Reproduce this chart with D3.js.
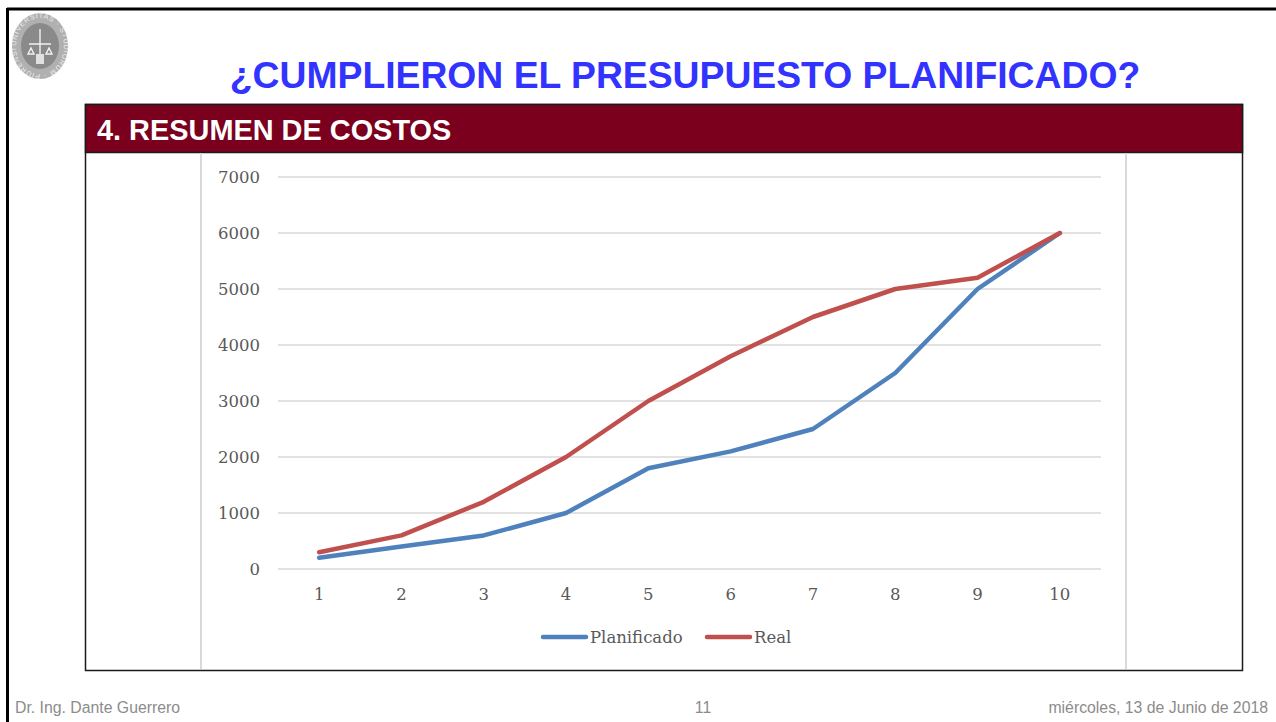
<!DOCTYPE html>
<html>
<head>
<meta charset="utf-8">
<script src="https://cdn.jsdelivr.net/npm/d3@7"></script>
<style>
  body { margin: 0; background: #fff; }
  svg { display: block; }
</style>
</head>
<body>
<svg id="slide" width="1276" height="722"></svg>
<script>
// Datos del gráfico
const periodos = [1, 2, 3, 4, 5, 6, 7, 8, 9, 10];
const planificado = [200, 400, 600, 1000, 1800, 2100, 2500, 3500, 5000, 6000];
const real = [300, 600, 1200, 2000, 3000, 3800, 4500, 5000, 5200, 6000];
const yTicks = [0, 1000, 2000, 3000, 4000, 5000, 6000, 7000];
const series = [
  { name: "Planificado", values: planificado, color: "#4F81BD" },
  { name: "Real", values: real, color: "#C0504D" }
];

const svg = d3.select("#slide");

// Marco de la diapositiva
svg.append("line").attr("x1", 7).attr("x2", 1276).attr("y1", 9).attr("y2", 9)
  .attr("stroke", "#000").attr("stroke-width", 3);
svg.append("line").attr("x1", 7.5).attr("x2", 7.5).attr("y1", 8).attr("y2", 722)
  .attr("stroke", "#000").attr("stroke-width", 3);

// Logo (sello)
const logo = svg.append("g").attr("transform", "translate(40,46)");
logo.append("ellipse").attr("rx", 28).attr("ry", 33).attr("fill", "#b0b0b0");
logo.append("ellipse").attr("rx", 19).attr("ry", 23).attr("fill", "#8a8a8a");
logo.append("path").attr("id", "ring")
  .attr("d", "M -24,0 A 24,28 0 1,1 24,0 A 24,28 0 1,1 -24,0")
  .attr("fill", "none");
logo.append("text").attr("font-family", "Liberation Sans").attr("font-size", 7)
  .attr("fill", "#eeeeee").attr("letter-spacing", 0.8)
  .append("textPath").attr("href", "#ring")
  .text("UNIVERSITAS · STUDIORUM · PIURENSIS ·");
logo.append("path").attr("d", "M0,-17 L0,14 M-11,-2 L11,-2 M-9,2 L-12,8 L-6,8 Z M9,2 L6,8 L12,8 Z")
  .attr("stroke", "#f2f2f2").attr("stroke-width", 1.4).attr("fill", "none");
logo.append("rect").attr("x", -4).attr("y", 8).attr("width", 8).attr("height", 10)
  .attr("fill", "#e0e0e0");

// Título
svg.append("text")
  .attr("x", 685).attr("y", 88)
  .attr("text-anchor", "middle")
  .attr("font-family", "Liberation Sans, Arial, sans-serif")
  .attr("font-weight", "bold").attr("font-size", 37.3)
  .attr("fill", "#3333FF")
  .text("¿CUMPLIERON EL PRESUPUESTO PLANIFICADO?");

// Caja de contenido
const box = { x: 85, y: 104, w: 1157, h: 566 };
svg.append("rect")
  .attr("x", box.x + 0.5).attr("y", box.y + 0.5).attr("width", box.w).attr("height", box.h)
  .attr("fill", "#fff").attr("stroke", "#1a1a1a").attr("stroke-width", 1.5);
svg.append("rect")
  .attr("x", box.x + 0.5).attr("y", box.y + 0.5).attr("width", box.w).attr("height", 48)
  .attr("fill", "#7B001E").attr("stroke", "#1a1a1a").attr("stroke-width", 1.5);
svg.append("text")
  .attr("x", 97).attr("y", 140)
  .attr("font-family", "Liberation Sans, Arial, sans-serif")
  .attr("font-weight", "bold").attr("font-size", 28.9)
  .attr("fill", "#fff")
  .text("4. RESUMEN DE COSTOS");

// Marco del gráfico
[201, 1126].forEach(function(xv) {
  svg.append("line").attr("x1", xv).attr("x2", xv).attr("y1", 153).attr("y2", 669)
    .attr("stroke", "#d9d9d9").attr("stroke-width", 2);
});

// Escalas
const x = d3.scalePoint().domain(periodos).range([278, 1101]).padding(0.5);
const y = d3.scaleLinear().domain([0, 7000]).range([569, 177]);

const fontTicks = "'DejaVu Serif', serif";
const tickSize = 16.5;

// Líneas de cuadrícula
svg.append("g").selectAll("line").data(yTicks).join("line")
  .attr("x1", 278).attr("x2", 1101)
  .attr("y1", d => y(d)).attr("y2", d => y(d))
  .attr("stroke", "#d9d9d9").attr("stroke-width", 1.5);

// Etiquetas eje Y
svg.append("g").selectAll("text").data(yTicks).join("text")
  .attr("x", 260).attr("y", d => y(d) + 6)
  .attr("text-anchor", "end")
  .attr("font-family", fontTicks).attr("font-size", tickSize)
  .attr("fill", "#595959")
  .text(d => d);

// Etiquetas eje X
svg.append("g").selectAll("text").data(periodos).join("text")
  .attr("x", d => x(d)).attr("y", 600)
  .attr("text-anchor", "middle")
  .attr("font-family", fontTicks).attr("font-size", tickSize)
  .attr("fill", "#595959")
  .text(d => d);

// Series
const line = d3.line().x((d, i) => x(periodos[i])).y(d => y(d));
svg.append("g").selectAll("path").data(series).join("path")
  .attr("d", d => line(d.values))
  .attr("fill", "none")
  .attr("stroke", d => d.color)
  .attr("stroke-width", 4.5)
  .attr("stroke-linejoin", "round")
  .attr("stroke-linecap", "round");

// Leyenda
const legendPos = [543, 707];
const legend = svg.append("g").selectAll("g").data(series).join("g")
  .attr("transform", (d, i) => `translate(${legendPos[i]},637)`);
legend.append("line")
  .attr("x1", 0).attr("x2", 43).attr("y1", 0).attr("y2", 0)
  .attr("stroke", d => d.color).attr("stroke-width", 4.5).attr("stroke-linecap", "round");
legend.append("text")
  .attr("x", 47).attr("y", 6)
  .attr("font-family", fontTicks).attr("font-size", tickSize)
  .attr("fill", "#595959")
  .text(d => d.name);

// Pie de página
const footFont = "Liberation Sans, Arial, sans-serif";
const footSize = 15.8;
svg.append("text").attr("x", 15).attr("y", 713)
  .attr("font-family", footFont).attr("font-size", footSize).attr("fill", "#8c8c8c")
  .text("Dr. Ing. Dante Guerrero");
svg.append("text").attr("x", 703).attr("y", 713).attr("text-anchor", "middle")
  .attr("font-family", footFont).attr("font-size", footSize).attr("fill", "#8c8c8c")
  .text("11");
svg.append("text").attr("x", 1268).attr("y", 713).attr("text-anchor", "end")
  .attr("font-family", footFont).attr("font-size", footSize).attr("fill", "#8c8c8c")
  .text("miércoles, 13 de Junio de 2018");
</script>
</body>
</html>
